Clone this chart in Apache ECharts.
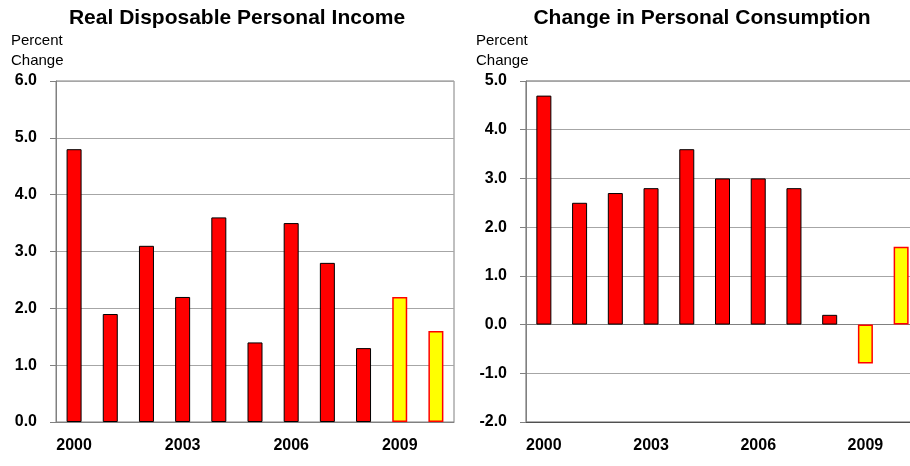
<!DOCTYPE html>
<html>
<head>
<meta charset="utf-8">
<script src="https://cdn.jsdelivr.net/npm/echarts@6/dist/echarts.min.js"></script>
<style>
  html, body { margin: 0; padding: 0; background: #fff; overflow: hidden; }
  #main { width: 922px; height: 466px; }
</style>
</head>
<body>
<div id="main"></div>
<script type="text/javascript">
	var years = ['2000','2001','2002','2003','2004','2005','2006','2007','2008','2009','2010'];
	var incomeValues = [4.8, 1.9, 3.1, 2.2, 3.6, 1.4, 3.5, 2.8, 1.3, 2.2, 1.6];
	var consumptionValues = [4.7, 2.5, 2.7, 2.8, 3.6, 3.0, 3.0, 2.8, 0.2, -0.8, 1.6];
	// years drawn in yellow (forecast)
	var forecastYears = ['2009','2010'];

	var tickFont = 'Liberation Sans, Arial, sans-serif';

	function toBars(values){
		return values.map(function(v, i){
			var fc = forecastYears.indexOf(years[i]) >= 0;
			return {
				value: v,
				itemStyle: fc
					? {color: '#ffff00', borderColor: '#ff0000', borderWidth: 1.5}
					: {color: '#ff0000', borderColor: '#000', borderWidth: 1}
			};
		});
	}

	var myChart = echarts.init(document.getElementById('main'), null, {renderer: 'canvas'});
	var labelStyle = {fontFamily: tickFont, fontWeight: 'bold', fontSize: 16, color: '#000'};
	var titleStyle = {fontFamily: 'Liberation Sans, Arial, sans-serif', fontSize: 21, fontWeight: 'bold', color: '#000'};
	var unitStyle = {fontFamily: tickFont, fontSize: 15, fontWeight: 'normal', color: '#000', lineHeight: 20};

	option = {
		animation: false,
		title : [
			{text: 'Real Disposable Personal Income', left: 232, top: 3, textAlign: 'center', textStyle: titleStyle},
			{text: 'Change in Personal Consumption', left: 697, top: 3, textAlign: 'center', textStyle: titleStyle},
			{text: 'Percent\nChange', left: 6, top: 26, textStyle: unitStyle},
			{text: 'Percent\nChange', left: 471, top: 26, textStyle: unitStyle}
		],
		grid : [
			{left: 56, top: 81, width: 398, height: 341, show: true, borderColor: '#808080', borderWidth: 1},
			{left: 526, top: 81, width: 393, height: 341, show: true, borderColor: '#606060', borderWidth: 1}
		],
		xAxis : [
			{
				gridIndex: 0, type : 'category', data : years,
				axisLine: {lineStyle: {color: '#808080'}},
				axisTick: {interval: 0, length: 6, lineStyle: {color: '#808080'}},
				axisLabel: Object.assign({interval: 2, margin: 16}, labelStyle)
			},
			{
				gridIndex: 1, type : 'category', data : years,
				axisLine: {onZero: true, lineStyle: {color: '#808080'}},
				axisTick: {interval: 0, length: 6, lineStyle: {color: '#808080'}},
				axisLabel: {show: false}
			},
			{
				gridIndex: 1, type : 'category', data : years, position: 'bottom',
				axisLine: {onZero: false, lineStyle: {color: '#505050'}},
				axisTick: {show: false},
				axisLabel: Object.assign({interval: 2, margin: 16}, labelStyle)
			}
		],
		yAxis : [
			{
				gridIndex: 0, type : 'value', min: 0, max: 6, interval: 1,
				axisLine: {show: true, lineStyle: {color: '#808080'}},
				axisTick: {show: true, length: 6, lineStyle: {color: '#808080'}},
				splitLine: {lineStyle: {color: '#a6a6a6'}},
				axisLabel: Object.assign({margin: 19, formatter: function(v){ return v.toFixed(1); }}, labelStyle)
			},
			{
				gridIndex: 1, type : 'value', min: -2, max: 5, interval: 1,
				axisLine: {show: true, lineStyle: {color: '#808080'}},
				axisTick: {show: true, length: 6, lineStyle: {color: '#808080'}},
				splitLine: {lineStyle: {color: '#a6a6a6'}},
				axisLabel: Object.assign({margin: 19, formatter: function(v){ return v.toFixed(1); }}, labelStyle)
			}
		],
		series : [
			{name: 'Real Disposable Personal Income', type: 'bar', xAxisIndex: 0, yAxisIndex: 0,
				barWidth: 15, data: toBars(incomeValues)},
			{name: 'Change in Personal Consumption', type: 'bar', xAxisIndex: 1, yAxisIndex: 1,
				barWidth: 15, data: toBars(consumptionValues)}
		]
	};
	myChart.setOption(option);
</script>
</body>
</html>
